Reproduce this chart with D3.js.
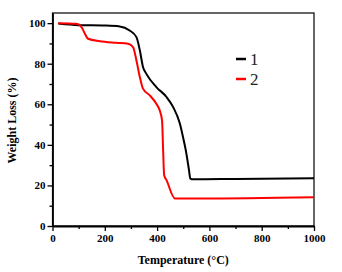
<!DOCTYPE html>
<html>
<head>
<meta charset="utf-8">
<script src="https://cdn.jsdelivr.net/npm/d3@7"></script>
<style>
  body { margin: 0; background: #fff; }
  text { font-family: "Liberation Serif", "Times New Roman", serif; }
</style>
</head>
<body>
<div id="chart"></div>
<script>
// TGA curves
const temp1 = [22, 100, 200, 257, 295, 321, 334, 346, 359, 397, 436, 461, 487, 499, 512, 522, 527, 538, 700, 1000]
const weight1 = [99.8, 99.0, 98.8, 98.4, 96.4, 93.1, 86.6, 78.4, 75.0, 68.5, 63.6, 58.7, 50.5, 43.9, 35.7, 27.5, 23.4, 23.0, 23.2, 23.6]
const temp2 = [22, 92, 111, 124, 136, 181, 245, 289, 308, 321, 334, 346, 372, 397, 410, 419, 423, 427, 436, 468, 563, 1000]
const weight2 = [100, 99.7, 98.0, 94.8, 92.3, 91.1, 90.3, 89.8, 88.2, 81.6, 73.4, 67.7, 64.4, 60.3, 57.0, 52.0, 37.4, 25.0, 22.6, 13.6, 13.6, 14.2]
const seriesNames = ["1", "2"]
const seriesColors = ["#000000", "#ff0000"]
const xTicks = [0, 200, 400, 600, 800, 1000]
const yTicks = [0, 20, 40, 60, 80, 100]

const width = 342
const height = 272
const margin = { top: 13, right: 28, bottom: 46, left: 52.5 }

const svg = d3.select("#chart")
    .append("svg")
    .attr("width", width)
    .attr("height", height)

const x = d3.scaleLinear().domain([0, 1000]).range([margin.left, width - margin.right])
const y = d3.scaleLinear().domain([0, 105]).range([height - margin.bottom, margin.top])

// frame (top & right)
svg.append("rect")
    .attr("x", x(0)).attr("y", y(105))
    .attr("width", x(1000) - x(0)).attr("height", y(0) - y(105))
    .attr("fill", "none").attr("stroke", "#000").attr("stroke-width", 1.2)

// minor ticks
svg.append("g")
    .attr("transform", "translate(0," + y(0) + ")")
    .call(d3.axisBottom(x).tickValues(d3.range(100, 1000, 200)).tickSize(3).tickFormat(""))
    .call(g => g.select(".domain").remove())
svg.append("g")
    .attr("transform", "translate(" + x(0) + ",0)")
    .call(d3.axisLeft(y).tickValues(d3.range(10, 105, 20)).tickSize(3).tickFormat(""))
    .call(g => g.select(".domain").remove())

// major axes
const xAxis = svg.append("g")
    .attr("transform", "translate(0," + y(0) + ")")
    .call(d3.axisBottom(x).tickValues(xTicks).tickFormat(d3.format("d")).tickSize(5).tickPadding(3).tickSizeOuter(0))
const yAxis = svg.append("g")
    .attr("transform", "translate(" + x(0) + ",0)")
    .call(d3.axisLeft(y).tickValues(yTicks).tickFormat(d3.format("d")).tickSize(5).tickPadding(2).tickSizeOuter(0))

svg.selectAll(".tick line").attr("stroke-width", 1.3)
svg.selectAll(".domain").attr("stroke-width", 1.8)
svg.selectAll(".tick text")
    .style("font-family", "'Liberation Serif', serif")
    .style("font-size", "11px")
    .style("font-weight", "bold")
    .attr("fill", "#000")

// curves
const line = d3.line()
    .x(d => x(d[0]))
    .y(d => y(d[1]))
    .curve(d3.curveMonotoneX)

const series = [
    temp1.map((t, i) => [t, weight1[i]]),
    temp2.map((t, i) => [t, weight2[i]])
]

svg.append("g")
    .selectAll("path")
    .data(series)
    .join("path")
    .attr("d", line)
    .attr("fill", "none")
    .attr("stroke", (d, i) => seriesColors[i])
    .attr("stroke-width", 2)

// legend
const legend = svg.append("g")
    .selectAll("g")
    .data(seriesNames)
    .join("g")
    .attr("transform", (d, i) => "translate(236," + (59 + i * 20) + ")")
legend.append("line")
    .attr("x1", 0).attr("x2", 10)
    .attr("stroke", (d, i) => seriesColors[i])
    .attr("stroke-width", 2.5)
legend.append("text")
    .attr("x", 14)
    .attr("dy", "0.35em")
    .style("font-size", "17px")
    .attr("fill", "#222")
    .text(d => d)

// axis titles
svg.append("text")
    .attr("x", (x(0) + x(1000)) / 2)
    .attr("y", 264)
    .attr("text-anchor", "middle")
    .style("font-size", "12px")
    .style("font-weight", "bold")
    .text("Temperature (°C)")

svg.append("text")
    .attr("transform", "translate(16," + y(52) + ") rotate(-90)")
    .attr("text-anchor", "middle")
    .style("font-size", "12px")
    .style("font-weight", "bold")
    .text("Weight Loss (%)")
</script>
</body>
</html>
